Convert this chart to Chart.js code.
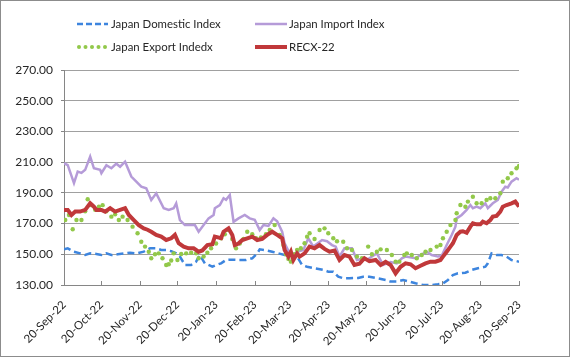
<!DOCTYPE html>
<html>
<head>
<meta charset="utf-8">
<script src="https://cdn.jsdelivr.net/npm/chart.js@4/dist/chart.umd.min.js"></script>
<style>
  html, body { margin: 0; padding: 0; background: #fff; }
  #c { display: block; }
</style>
</head>
<body>
<canvas id="c" width="570" height="357"></canvas>
<script>
// ---- Axis ticks (days since 20-Sep-22) ----
const tickDays = [0, 30, 61, 91, 122, 153, 181, 212, 242, 273, 303, 334, 365];
const tickLabels = ["20-Sep-22","20-Oct-22","20-Nov-22","20-Dec-22","20-Jan-23","20-Feb-23","20-Mar-23","20-Apr-23","20-May-23","20-Jun-23","20-Jul-23","20-Aug-23","20-Sep-23"];
const yTicks = [130, 150, 170, 190, 210, 230, 250, 270];

// ---- Japan Domestic Index ----
const domesticDays = [0,3,8,13,17,21,26,30,34,38,43,49,53,58,64,69,74,78,82,86,90,93,97,102,106,109,113,119,122,126,130,134,140,146,151,155,157,161,167,172,177,183,187,191,195,201,208,212,216,220,224,229,236,240,245,251,258,262,267,272,277,282,288,295,300,304,308,312,316,322,327,332,338,340,343,347,351,355,359,365];
const domesticValues = [153.2,153.9,151.7,150.6,149.5,150.6,150.2,149.5,150.6,149.5,150,150.6,151,150.6,151.7,153.9,153.9,152.8,152.8,152,150.6,148.5,143,143,145.2,149.5,144.1,141.9,143,144.1,146.3,146.5,146.3,146.3,147.4,150.6,153.2,152.8,151.7,150.6,149.5,150.6,148.5,143,141.9,140.9,139.8,138.7,138.7,135.4,134.4,134.4,134.6,135.4,135.4,134.4,133.3,132.2,132.2,133.3,132.2,131.1,130,130,130.5,131,133.3,136.5,137.6,138,139.8,140.9,141.9,144.1,150.6,149.5,149.5,148.5,146.3,145.2];

// ---- Japan Import Index ----
const importDays = [0,3,8,11,14,17,21,24,29,30,34,38,42,45,49,54,58,62,66,70,74,80,84,88,90,93,97,105,108,112,116,120,121,125,128,130,133,136,140,145,149,153,157,160,164,168,171,175,177,181,184,187,192,196,200,207,211,215,218,221,225,231,235,239,243,247,251,256,262,267,271,274,282,286,291,295,300,303,307,311,314,315,319,323,326,328,331,334,338,340,344,348,351,354,356,359,363,365];
const importValues = [209.3,208,196.3,203.8,203,205,213.6,206,205,202.8,208,206,209,207,210.3,200.6,197.3,194,193,185.4,189.7,180,178.9,180,183.2,172.3,169,169,164.7,169,173.4,175.6,180,182,186.5,185.5,188.6,171.2,173.4,175.6,173.4,172.5,165.8,169,168.5,173.4,171.5,164.7,157.2,150.6,148.5,151.7,152.8,160.4,155,159.3,158.5,156,155,148.5,153.9,153.9,146.3,147,146.3,148.5,150.6,143,145,144.1,147.4,148.5,147.4,149.5,151.7,149.5,148.5,149,156,162.6,168,173.4,175.6,178.9,182.1,180,181,180,183.2,180,183.2,185.4,190.8,194,193.5,197.3,199.5,198.5];

// ---- Japan Export Indedx (markers only) ----
const exportDays = [1,4,7,10,14,17,19,22,25,28,31,34,38,41,44,47,51,55,59,62,65,68,70,73,76,79,82,84,86,88,91,94,98,102,106,108,112,115,118,122,126,129,132,135,138,141,144,147,151,154,158,162,165,169,173,176,178,180,182,185,187,190,193,195,197,201,205,209,212,216,219,224,227,231,235,239,244,247,251,254,259,263,266,269,273,275,279,283,287,290,294,299,302,304,307,310,314,315,318,322,324,328,331,335,339,342,346,350,352,356,359,363,365];
const exportValues = [172.3,175.6,166.3,172.3,172.3,178,185.8,182,179,181,182,178,174.5,176,172.3,174.5,172.3,168,163.7,158.2,155,151.7,147.4,150,150.6,147.4,143,143.5,146,150.6,146.3,150.2,150.6,151,150.6,147.4,148.5,151,153.9,157,160.4,163,165.8,160,153.9,157,160,164.7,163,160.4,161,163,165.8,169,162.6,156,150,147,145.2,150,152.8,153.9,157.2,161.5,163.7,160,165.8,166.9,163.7,160.4,158.5,158.2,153.9,152.8,148.5,147.4,155,150,151.7,153.2,152.8,149.5,145.2,145.2,149.5,150.6,149.5,147.4,149.5,151.7,152.8,155,156,160.4,164.7,169,172.3,176.7,182.1,181,184.3,187.5,183.2,183.2,185.4,186.5,186.5,189.7,197.3,199.5,202.8,206,207.5];

// ---- RECX-22 ----
const recxDays = [0,3,6,9,13,17,21,24,26,30,33,37,41,45,49,52,56,60,64,67,70,74,78,82,86,89,92,96,100,104,108,111,115,119,121,126,128,132,135,137,140,143,147,151,155,159,163,167,171,175,177,180,182,184,187,189,193,197,201,205,209,213,217,221,225,229,233,237,241,245,250,254,258,262,266,270,274,278,282,286,290,294,298,302,304,307,310,312,315,318,320,323,326,328,331,334,336,339,342,344,347,350,352,355,359,362,365];
const recxValues = [178.9,178.9,175.6,177.8,177.8,178.9,183.2,181,178.9,178.9,177.8,180,177.8,178.9,180,175.6,172.3,169,166.9,166,164.7,162.6,161.5,159.3,160.4,162.6,157.2,155,153.9,153.9,151.7,152.5,156,156.5,161.5,160.5,164.7,166.9,162.6,156,157,159.3,160.4,161.5,159.3,160,162.6,164.7,162.6,160.4,152.8,148.5,151.7,146.3,150.5,148.5,150.6,155,153.9,156,153.5,151.7,152.5,146.3,149.5,148.5,143,143.8,147.4,145.5,146.3,143,145,143,137.6,141.9,144.1,143.5,140.9,142.5,144.1,145.2,145.2,146.3,148.5,151.7,155,157.2,162.6,164.7,165,164,168,170.2,169.5,169.5,171.2,170.2,172.3,174.5,175,177.8,181,182.1,183.2,184.3,181];

const pts = (d, v) => d.map((x, i) => ({ x: x, y: v[i] }));

const FONT = "Lato, 'Liberation Sans', sans-serif";
const TXT = '#262626';
const AXIS = '#868686';
const C_DOM = '#3d85de', C_IMP = '#b59bd8', C_EXP = '#92c84a', C_RECX = '#c0383a';

const legendItems = [
  { label: 'Japan Domestic Index', kind: 'dash', color: C_DOM, col: 0, row: 0 },
  { label: 'Japan Import Index', kind: 'line', color: C_IMP, col: 1, row: 0 },
  { label: 'Japan Export Indedx', kind: 'dots', color: C_EXP, col: 0, row: 1 },
  { label: 'RECX-22', kind: 'thick', color: C_RECX, col: 1, row: 1 }
];

const decorPlugin = {
  id: 'decor',
  afterDraw(chart) {
    const ctx = chart.ctx;
    const xs = chart.scales.x;
    const area = chart.chartArea;
    ctx.save();
    // inner tick marks on x axis
    ctx.strokeStyle = AXIS;
    ctx.lineWidth = 1;
    tickDays.forEach(d => {
      const px = Math.round(xs.getPixelForValue(d)) + 0.5;
      ctx.beginPath();
      ctx.moveTo(px, area.bottom);
      ctx.lineTo(px, area.bottom - 4);
      ctx.stroke();
    });
    // legend
    const colX = [77, 255];
    const rowY = [24, 47];
    ctx.font = '11.4px ' + FONT;
    ctx.textBaseline = 'middle';
    ctx.textAlign = 'left';
    legendItems.forEach(it => {
      const x0 = colX[it.col], y = rowY[it.row];
      ctx.strokeStyle = it.color;
      ctx.fillStyle = it.color;
      if (it.kind === 'dash') {
        ctx.lineWidth = 2.5; ctx.setLineDash([6, 3]);
        ctx.beginPath(); ctx.moveTo(x0, y); ctx.lineTo(x0 + 31, y); ctx.stroke();
        ctx.setLineDash([]);
      } else if (it.kind === 'line') {
        ctx.lineWidth = 2.5;
        ctx.beginPath(); ctx.moveTo(x0, y); ctx.lineTo(x0 + 32, y); ctx.stroke();
      } else if (it.kind === 'thick') {
        ctx.lineWidth = 4;
        ctx.beginPath(); ctx.moveTo(x0, y); ctx.lineTo(x0 + 32, y); ctx.stroke();
      } else {
        for (let k = 0; k < 5; k++) {
          ctx.beginPath(); ctx.arc(x0 + 2 + k * 6.5, y, 2, 0, Math.PI * 2); ctx.fill();
        }
      }
      ctx.fillStyle = TXT;
      ctx.fillText(it.label, x0 + 34, y + 0.5);
    });
    // outer frame
    ctx.strokeStyle = '#8c8c8c';
    ctx.lineWidth = 1;
    ctx.strokeRect(0.5, 0.5, chart.width - 1, chart.height - 1);
    ctx.restore();
  }
};

new Chart(document.getElementById('c'), {
  type: 'line',
  data: {
    datasets: [
      { label: 'Japan Domestic Index', data: pts(domesticDays, domesticValues), borderColor: C_DOM, borderWidth: 2.5, borderDash: [7, 4], pointRadius: 0, tension: 0, order: 3 },
      { label: 'Japan Import Index', data: pts(importDays, importValues), borderColor: C_IMP, borderWidth: 2.5, pointRadius: 0, tension: 0, order: 2 },
      { label: 'Japan Export Indedx', data: pts(exportDays, exportValues), showLine: false, pointRadius: 2.2, pointBorderWidth: 0, pointBackgroundColor: C_EXP, pointBorderColor: C_EXP, borderColor: C_EXP, order: 1 },
      { label: 'RECX-22', data: pts(recxDays, recxValues), borderColor: C_RECX, borderWidth: 4, pointRadius: 0, tension: 0, order: 0 }
    ]
  },
  options: {
    responsive: false,
    animation: false,
    devicePixelRatio: 1,
    layout: { padding: { top: 70, right: 51, left: 0, bottom: 0 } },
    plugins: { legend: { display: false }, tooltip: { enabled: false } },
    scales: {
      x: {
        type: 'linear', min: 0, max: 365,
        afterBuildTicks: s => { s.ticks = tickDays.map(v => ({ value: v })); },
        afterFit: s => { s.height = 72; },
        ticks: {
          autoSkip: false, minRotation: 45, maxRotation: 45, padding: 13,
          font: { family: FONT, size: 11.5 }, color: TXT,
          callback: v => tickLabels[tickDays.indexOf(v)]
        },
        grid: { drawOnChartArea: false, drawTicks: false },
        border: { color: AXIS, width: 1 }
      },
      y: {
        min: 130, max: 270,
        afterBuildTicks: s => { s.ticks = yTicks.map(v => ({ value: v })); },
        afterFit: s => { s.width = 64; },
        ticks: {
          padding: 8, font: { family: FONT, size: 12 }, color: TXT,
          callback: v => Number(v).toFixed(2)
        },
        grid: { color: '#a0a0a0', lineWidth: 1, tickLength: 3, tickColor: AXIS },
        border: { color: AXIS, width: 1 }
      }
    }
  },
  plugins: [decorPlugin]
});
</script>
</body>
</html>
